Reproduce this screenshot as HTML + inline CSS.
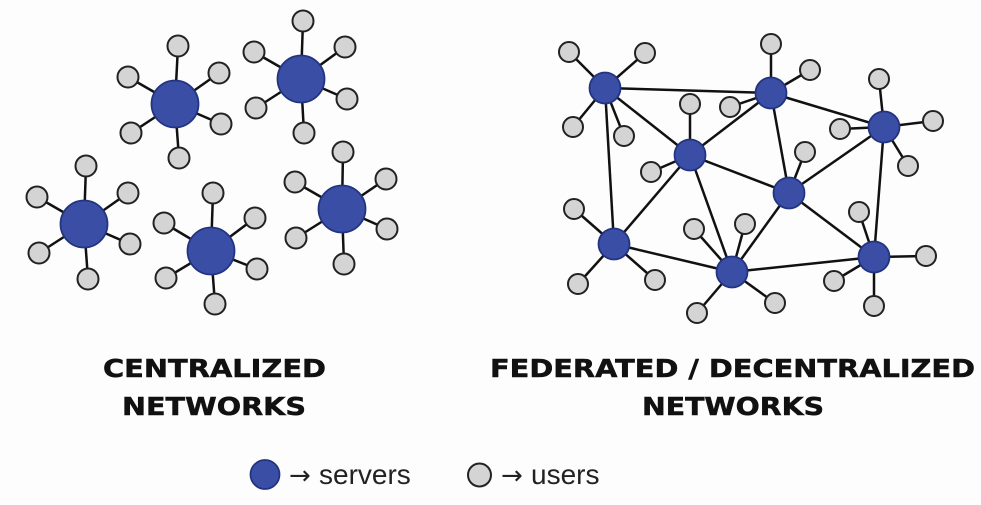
<!DOCTYPE html>
<html>
<head>
<meta charset="utf-8">
<style>
html,body{margin:0;padding:0;background:#fdfdfd;}
body{width:981px;height:505px;overflow:hidden;position:relative;}
svg{position:absolute;left:0;top:0;}
.t{font-family:"DejaVu Sans","Liberation Sans",sans-serif;font-weight:bold;font-size:24.5px;fill:#111;stroke:#111;stroke-width:0.5;}
.l{font-family:"Liberation Sans","DejaVu Sans",sans-serif;font-size:28px;fill:#222;}
.a{font-family:"DejaVu Sans","Liberation Sans",sans-serif;font-size:26px;fill:#222;}
</style>
</head>
<body>
<svg width="981" height="505" viewBox="0 0 981 505" xmlns="http://www.w3.org/2000/svg">
<rect width="981" height="505" fill="#fdfdfd"/>
<g stroke="#111" stroke-width="2.5">
<!-- cluster 1 -->
<line x1="175" y1="104" x2="178" y2="46"/><line x1="175" y1="104" x2="128" y2="77"/><line x1="175" y1="104" x2="219" y2="73"/>
<line x1="175" y1="104" x2="131" y2="133"/><line x1="175" y1="104" x2="221" y2="124"/><line x1="175" y1="104" x2="179" y2="158"/>
<!-- cluster 2 -->
<line x1="301" y1="79" x2="303" y2="21"/><line x1="301" y1="79" x2="254" y2="52"/><line x1="301" y1="79" x2="345" y2="47"/>
<line x1="301" y1="79" x2="256" y2="108"/><line x1="301" y1="79" x2="347" y2="99"/><line x1="301" y1="79" x2="304" y2="133"/>
<!-- cluster 3 -->
<line x1="84" y1="224" x2="86" y2="166"/><line x1="84" y1="224" x2="37" y2="197"/><line x1="84" y1="224" x2="128" y2="193"/>
<line x1="84" y1="224" x2="39" y2="253"/><line x1="84" y1="224" x2="130" y2="244"/><line x1="84" y1="224" x2="88" y2="279"/>
<!-- cluster 4 -->
<line x1="211" y1="251" x2="213" y2="193"/><line x1="211" y1="251" x2="164" y2="223"/><line x1="211" y1="251" x2="255" y2="218"/>
<line x1="211" y1="251" x2="166" y2="278"/><line x1="211" y1="251" x2="257" y2="269"/><line x1="211" y1="251" x2="215" y2="304"/>
<!-- cluster 5 -->
<line x1="342" y1="209" x2="343" y2="152"/><line x1="342" y1="209" x2="295" y2="182"/><line x1="342" y1="209" x2="386" y2="179"/>
<line x1="342" y1="209" x2="296" y2="238"/><line x1="342" y1="209" x2="387" y2="229"/><line x1="342" y1="209" x2="344" y2="264"/>

<!-- right network: server edges -->
<line x1="605" y1="88" x2="771" y2="93"/>
<line x1="605" y1="88" x2="690" y2="155"/>
<line x1="605" y1="88" x2="614" y2="244"/>
<line x1="771" y1="93" x2="690" y2="155"/>
<line x1="771" y1="93" x2="789" y2="193"/>
<line x1="771" y1="93" x2="884" y2="127"/>
<line x1="884" y1="127" x2="789" y2="193"/>
<line x1="884" y1="127" x2="874" y2="257"/>
<line x1="690" y1="155" x2="789" y2="193"/>
<line x1="690" y1="155" x2="614" y2="244"/>
<line x1="690" y1="155" x2="732" y2="272"/>
<line x1="789" y1="193" x2="732" y2="272"/>
<line x1="789" y1="193" x2="874" y2="257"/>
<line x1="614" y1="244" x2="732" y2="272"/>
<line x1="732" y1="272" x2="874" y2="257"/>
<!-- user edges -->
<line x1="605" y1="88" x2="569" y2="52"/><line x1="605" y1="88" x2="645" y2="53"/><line x1="605" y1="88" x2="573" y2="127"/><line x1="605" y1="88" x2="624" y2="136"/>
<line x1="771" y1="93" x2="771" y2="44"/><line x1="771" y1="93" x2="810" y2="70"/><line x1="771" y1="93" x2="730" y2="107"/>
<line x1="884" y1="127" x2="879" y2="79"/><line x1="884" y1="127" x2="933" y2="121"/><line x1="884" y1="127" x2="840" y2="129"/><line x1="884" y1="127" x2="908" y2="166"/>
<line x1="690" y1="155" x2="690" y2="104"/><line x1="690" y1="155" x2="651" y2="172"/>
<line x1="789" y1="193" x2="805" y2="152"/>
<line x1="614" y1="244" x2="574" y2="209"/><line x1="614" y1="244" x2="578" y2="284"/><line x1="614" y1="244" x2="655" y2="280"/>
<line x1="732" y1="272" x2="694" y2="229"/><line x1="732" y1="272" x2="745" y2="224"/><line x1="732" y1="272" x2="697" y2="313"/><line x1="732" y1="272" x2="775" y2="303"/>
<line x1="874" y1="257" x2="859" y2="212"/><line x1="874" y1="257" x2="926" y2="256"/><line x1="874" y1="257" x2="834" y2="281"/><line x1="874" y1="257" x2="874" y2="306"/>
</g>

<!-- users -->
<g fill="#d4d4d4" stroke="#222" stroke-width="2">
<circle cx="178" cy="46" r="10.5"/><circle cx="128" cy="77" r="10.5"/><circle cx="219" cy="73" r="10.5"/><circle cx="131" cy="133" r="10.5"/><circle cx="221" cy="124" r="10.5"/><circle cx="179" cy="158" r="10.5"/>
<circle cx="303" cy="21" r="10.5"/><circle cx="254" cy="52" r="10.5"/><circle cx="345" cy="47" r="10.5"/><circle cx="256" cy="108" r="10.5"/><circle cx="347" cy="99" r="10.5"/><circle cx="304" cy="133" r="10.5"/>
<circle cx="86" cy="166" r="10.5"/><circle cx="37" cy="197" r="10.5"/><circle cx="128" cy="193" r="10.5"/><circle cx="39" cy="253" r="10.5"/><circle cx="130" cy="244" r="10.5"/><circle cx="88" cy="279" r="10.5"/>
<circle cx="213" cy="193" r="10.5"/><circle cx="164" cy="223" r="10.5"/><circle cx="255" cy="218" r="10.5"/><circle cx="166" cy="278" r="10.5"/><circle cx="257" cy="269" r="10.5"/><circle cx="215" cy="304" r="10.5"/>
<circle cx="343" cy="152" r="10.5"/><circle cx="295" cy="182" r="10.5"/><circle cx="386" cy="179" r="10.5"/><circle cx="296" cy="238" r="10.5"/><circle cx="387" cy="229" r="10.5"/><circle cx="344" cy="264" r="10.5"/>

<circle cx="569" cy="52" r="10"/><circle cx="645" cy="53" r="10"/><circle cx="573" cy="127" r="10"/><circle cx="624" cy="136" r="10"/>
<circle cx="771" cy="44" r="10"/><circle cx="810" cy="70" r="10"/><circle cx="730" cy="107" r="10"/>
<circle cx="879" cy="79" r="10"/><circle cx="933" cy="121" r="10"/><circle cx="840" cy="129" r="10"/><circle cx="908" cy="166" r="10"/>
<circle cx="690" cy="104" r="10"/><circle cx="651" cy="172" r="10"/>
<circle cx="805" cy="152" r="10"/>
<circle cx="574" cy="209" r="10"/><circle cx="578" cy="284" r="10"/><circle cx="655" cy="280" r="10"/>
<circle cx="694" cy="229" r="10"/><circle cx="745" cy="224" r="10"/><circle cx="697" cy="313" r="10"/><circle cx="775" cy="303" r="10"/>
<circle cx="859" cy="212" r="10"/><circle cx="926" cy="256" r="10"/><circle cx="834" cy="281" r="10"/><circle cx="874" cy="306" r="10"/>
</g>

<!-- servers -->
<g fill="#3a4ea6" stroke="#22347f" stroke-width="1.8">
<circle cx="175" cy="104" r="23.5"/>
<circle cx="301" cy="79" r="23.5"/>
<circle cx="84" cy="224" r="23.5"/>
<circle cx="211" cy="251" r="23.5"/>
<circle cx="342" cy="209" r="23.5"/>

<circle cx="605" cy="88" r="15.5"/>
<circle cx="771" cy="93" r="15.5"/>
<circle cx="884" cy="127" r="15.5"/>
<circle cx="690" cy="155" r="15.5"/>
<circle cx="789" cy="193" r="15.5"/>
<circle cx="614" cy="244" r="15.5"/>
<circle cx="732" cy="272" r="15.5"/>
<circle cx="874" cy="257" r="15.5"/>
</g>

<!-- titles -->
<text class="t" x="103" y="377" textLength="223" lengthAdjust="spacingAndGlyphs">CENTRALIZED</text>
<text class="t" x="122" y="415" textLength="184" lengthAdjust="spacingAndGlyphs">NETWORKS</text>
<text class="t" x="490" y="377" textLength="485" lengthAdjust="spacingAndGlyphs">FEDERATED / DECENTRALIZED</text>
<text class="t" x="642" y="415" textLength="182" lengthAdjust="spacingAndGlyphs">NETWORKS</text>

<!-- legend -->
<circle cx="265" cy="474.5" r="14.5" fill="#3a4ea6" stroke="#22347f" stroke-width="1.8"/>
<text class="a" x="289" y="484">→</text>
<text class="l" x="319" y="484">servers</text>
<circle cx="479.5" cy="475" r="11.5" fill="#d4d4d4" stroke="#222" stroke-width="2"/>
<text class="a" x="501" y="484">→</text>
<text class="l" x="531" y="484">users</text>
</svg>
</body>
</html>
